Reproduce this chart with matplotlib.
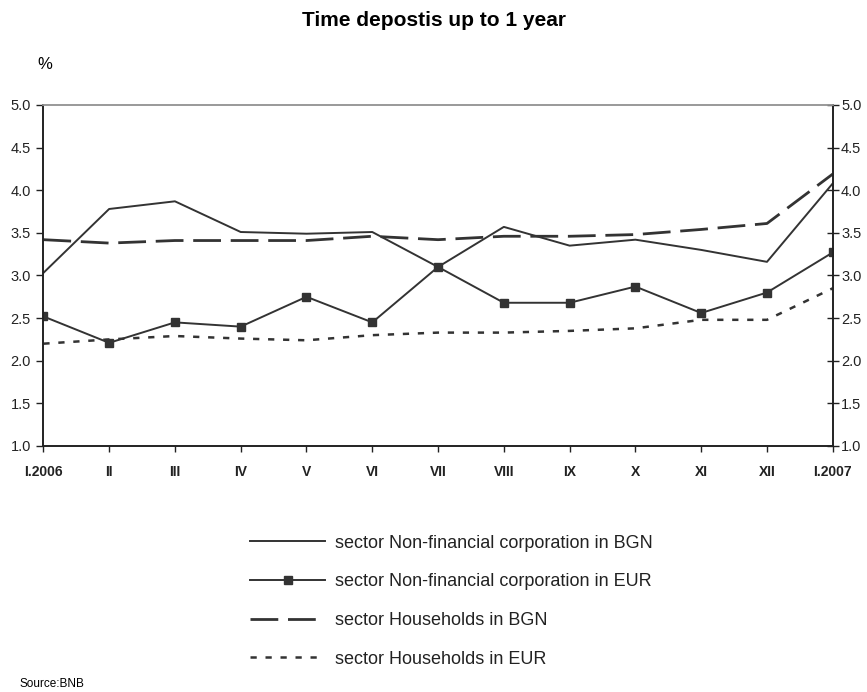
import numpy as np
import matplotlib
matplotlib.use('Agg')
import matplotlib.pyplot as plt

plt.rcParams['font.family'] = ['Liberation Sans', 'DejaVu Sans']

months = ['I.2006', 'II', 'III', 'IV', 'V', 'VI', 'VII', 'VIII', 'IX', 'X', 'XI', 'XII', 'I.2007']
nfc_bgn = [3.03, 3.78, 3.87, 3.51, 3.49, 3.51, 3.10, 3.57, 3.35, 3.42, 3.30, 3.16, 4.08]
nfc_eur = [2.52, 2.21, 2.45, 2.40, 2.75, 2.45, 3.10, 2.68, 2.68, 2.87, 2.56, 2.80, 3.27]
hh_bgn = [3.42, 3.38, 3.41, 3.41, 3.41, 3.46, 3.42, 3.46, 3.46, 3.48, 3.54, 3.61, 4.19]
hh_eur = [2.20, 2.25, 2.29, 2.26, 2.24, 2.30, 2.33, 2.33, 2.35, 2.38, 2.48, 2.48, 2.85]

labels = ['sector Non-financial corporation in BGN',
          'sector Non-financial corporation in EUR',
          'sector Households in BGN',
          'sector Households in EUR']

col = '#333333'
x = np.arange(len(months))
yticks = np.arange(1.0, 5.01, 0.5)
ylabels = [f'{v:.1f}' for v in yticks]

fig = plt.figure(figsize=(8.67, 6.92), dpi=100)
ax = fig.add_axes([0.05, 0.3555, 0.9105, 0.4928])

ax.plot(x, nfc_bgn, color=col, lw=1.4, label=labels[0])
ax.plot(x, nfc_eur, color=col, lw=1.4, marker='s', markersize=5.5, label=labels[1])
ax.plot(x, hh_bgn, color=col, lw=2.0, dashes=(10, 3.5), label=labels[2])
ax.plot(x, hh_eur, color=col, lw=1.8, dashes=(2.5, 3.5), label=labels[3])

ax.set_xlim(0, len(months) - 1)
ax.set_ylim(1.0, 5.0)
ax.set_yticks(yticks)
ax.set_yticklabels(ylabels, fontsize=10.5)
ax.set_xticks(x)
ax.set_xticklabels(months, fontsize=10, fontweight='bold')

ax.tick_params(axis='y', direction='out', length=5, width=1, colors='#222222', pad=4)
ax.tick_params(axis='x', direction='out', length=4, width=1, pad=10, colors='#222222')

# right-hand scale, same range
ax2 = ax.twinx()
ax2.set_ylim(1.0, 5.0)
ax2.set_yticks(yticks)
ax2.set_yticklabels(ylabels, fontsize=10.5)
ax2.tick_params(axis='y', direction='inout', length=8, width=1, colors='#222222', pad=2)

for a in (ax, ax2):
    for side in ['left', 'right', 'bottom']:
        a.spines[side].set_color('#222222')
        a.spines[side].set_linewidth(1.2)
    a.spines['top'].set_color('#999999')
    a.spines['top'].set_linewidth(1.2)

fig.text(0.5, 0.971, 'Time depostis up to 1 year', ha='center', va='center',
         fontsize=15, fontweight='bold')
fig.text(0.052, 0.907, '%', ha='center', va='center', fontsize=12)

leg = ax.legend(loc='upper left', bbox_to_anchor=(0.2416, -0.212), frameon=False,
                fontsize=13, handlelength=4.15, handletextpad=0.55, labelspacing=1.2)
for t in leg.get_texts():
    t.set_color('#222222')

fig.text(0.023, 0.012, 'Source:BNB', ha='left', va='center', fontsize=8.5)

fig.savefig('out.png', dpi=100)
